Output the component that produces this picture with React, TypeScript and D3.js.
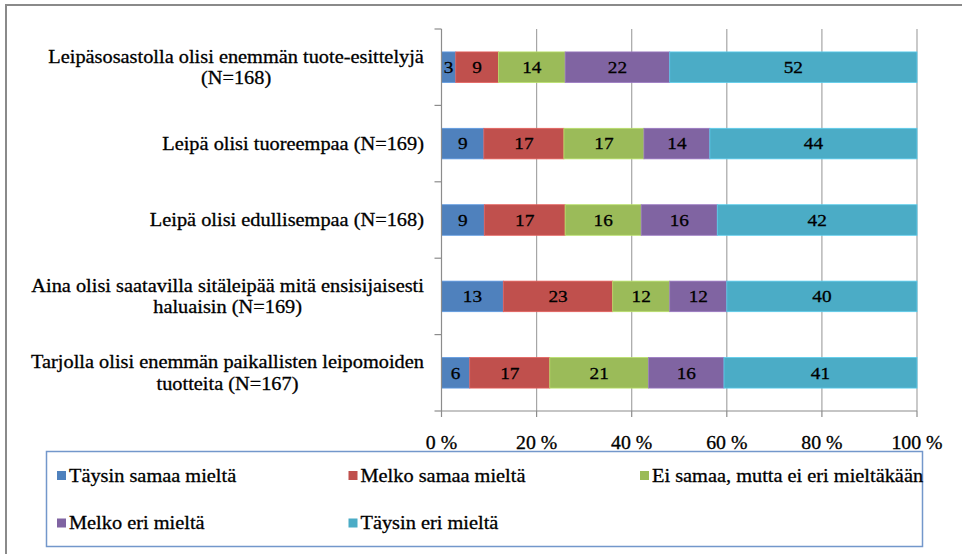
import React from 'react';
import * as d3 from 'd3';

// Statements (each entry is the wrapped lines of the category label)
const categories: string[][] = [
  ['Leipäsosastolla olisi enemmän tuote-esittelyjä', '(N=168)'],
  ['Leipä olisi tuoreempaa (N=169)'],
  ['Leipä olisi edullisempaa (N=168)'],
  ['Aina olisi saatavilla sitäleipää mitä ensisijaisesti', 'haluaisin (N=169)'],
  ['Tarjolla olisi enemmän paikallisten leipomoiden', 'tuotteita (N=167)'],
];

const seriesNames = [
  'Täysin samaa mieltä',
  'Melko samaa mieltä',
  'Ei samaa, mutta ei eri mieltäkään',
  'Melko eri mieltä',
  'Täysin eri mieltä',
];

// Percentages per statement, in category order
const taysinSamaa = [3, 9, 9, 13, 6];
const melkoSamaa = [9, 17, 17, 23, 17];
const eiSamaaEiEri = [14, 17, 16, 12, 21];
const melkoEri = [22, 14, 16, 12, 16];
const taysinEri = [52, 44, 42, 40, 41];

const seriesColors = ['#4F81BD', '#C0504D', '#9BBB59', '#8064A2', '#4BACC6'];

const xTicks = [0, 0.2, 0.4, 0.6, 0.8, 1];
const xTickLabels = ['0 %', '20 %', '40 %', '60 %', '80 %', '100 %'];

const W = 962;
const H = 554;
const FONT_CSS = '"Liberation Serif", "DejaVu Serif", serif';
const SX = 1.1; // horizontal stretch of the glyphs

const seriesValues = [taysinSamaa, melkoSamaa, eiSamaaEiEri, melkoEri, taysinEri];
const rows = categories.map((_, i) => {
  const r: Record<string, number> = { idx: i };
  seriesNames.forEach((s, k) => (r[s] = seriesValues[k][i]));
  return r;
});

let measureCtx: CanvasRenderingContext2D | null = null;
function measure(text: string, size: number): number {
  if (!measureCtx) measureCtx = document.createElement('canvas').getContext('2d');
  if (!measureCtx) return text.length * size * 0.42;
  measureCtx.font = `${size}px ${FONT_CSS}`;
  return measureCtx.measureText(text).width;
}

function SText(props: {
  x: number;
  y: number;
  size: number;
  anchor?: 'start' | 'middle' | 'end';
  children: React.ReactNode;
}) {
  const { x, y, size, anchor = 'start', children } = props;
  return (
    <text
      transform={`translate(${x},${y}) scale(${SX},1)`}
      textAnchor={anchor}
      dominantBaseline="central"
      style={{ fontFamily: FONT_CSS, fontSize: size }}
      fill="#000"
      stroke="#000"
      strokeWidth={0.3}
    >
      {children}
    </text>
  );
}

export default function App() {
  const x = d3.scaleLinear().domain([0, 1]).range([441.5, 917]);
  const y = d3
    .scaleBand<number>()
    .domain(categories.map((_, i) => i))
    .range([29, 411])
    .paddingInner(0.6)
    .paddingOuter(0.3);

  const stack = d3
    .stack<Record<string, number>>()
    .keys(seriesNames)
    .offset(d3.stackOffsetExpand);
  const layers = stack(rows);

  const plotTop = y.range()[0];
  const plotBottom = y.range()[1];
  const step = y.step();
  const boundaries = d3.range(categories.length + 1).map((i) => plotTop + i * step);

  const labelSize = 18.5;
  const labelRight = 424;
  const lineH = 21.5;

  const legendCols = [57, 348.5, 640];
  const legendRows = [475.5, 523];

  return (
    <svg
      width={W}
      height={H}
      style={{ position: 'absolute', left: 0, top: 0, background: '#fff' }}
    >
      <rect x={0} y={0} width={W} height={H} fill="#fff" />
      {/* chart frame */}
      <rect x={6} y={5} width={1200} height={1200} fill="none" stroke="#8a8a8a" strokeWidth={2} />

      {/* vertical gridlines */}
      {xTicks.slice(1).map((t) => (
        <line key={t} x1={x(t)} x2={x(t)} y1={plotTop} y2={plotBottom} stroke="#a6a6a6" strokeWidth={1.2} />
      ))}

      {/* stacked bars */}
      {layers.map((layer, k) => (
        <g key={layer.key}>
          {layer.map((d, i) => (
            <rect
              key={i}
              x={x(d[0])}
              y={y(i)}
              width={x(d[1]) - x(d[0])}
              height={y.bandwidth()}
              fill={seriesColors[k]}
              stroke={d3.color(seriesColors[k])!.brighter(0.5).formatHex()}
              strokeWidth={0.8}
            />
          ))}
        </g>
      ))}

      {/* value labels */}
      {layers.map((layer, k) => (
        <g key={'l' + layer.key}>
          {layer.map((d, i) => (
            <SText key={i} x={(x(d[0]) + x(d[1])) / 2} y={y(i)! + y.bandwidth() / 2} size={17.5} anchor="middle">
              {seriesValues[k][i]}
            </SText>
          ))}
        </g>
      ))}

      {/* category axis */}
      <line x1={x(0)} x2={x(0)} y1={plotTop} y2={plotBottom} stroke="#8c8c8c" strokeWidth={1.2} />
      {boundaries.map((b, i) => (
        <line key={i} x1={x(0) - 7} x2={x(0)} y1={b} y2={b} stroke="#8c8c8c" strokeWidth={1.2} />
      ))}

      {/* value axis */}
      <line x1={x(0)} x2={x(1)} y1={plotBottom} y2={plotBottom} stroke="#8c8c8c" strokeWidth={1.2} />
      {xTicks.map((t) => (
        <line key={t} x1={x(t)} x2={x(t)} y1={plotBottom} y2={plotBottom + 6} stroke="#8c8c8c" strokeWidth={1.2} />
      ))}
      {xTicks.map((t, i) => (
        <SText key={t} x={x(t)} y={443} size={18} anchor="middle">
          {xTickLabels[i]}
        </SText>
      ))}

      {/* category labels */}
      {categories.map((lines, i) => {
        const blockW = d3.max(lines, (l) => measure(l, labelSize))! * SX;
        const cx = labelRight - blockW / 2;
        const cy = y(i)! + y.bandwidth() / 2;
        return (
          <g key={i}>
            {lines.map((l, j) => (
              <SText key={j} x={cx} y={cy + (j - (lines.length - 1) / 2) * lineH} size={labelSize} anchor="middle">
                {l}
              </SText>
            ))}
          </g>
        );
      })}

      {/* legend */}
      <rect x={46.5} y={451.5} width={876} height={95} fill="#fff" stroke="#7397cb" strokeWidth={1.5} />
      {seriesNames.map((s, k) => {
        const lx = legendCols[k % 3];
        const ly = legendRows[Math.floor(k / 3)];
        return (
          <g key={s}>
            <rect x={lx} y={ly - 4.5} width={9} height={9} fill={seriesColors[k]} />
            <SText x={lx + 12} y={ly} size={18.5}>
              {s}
            </SText>
          </g>
        );
      })}
    </svg>
  );
}
